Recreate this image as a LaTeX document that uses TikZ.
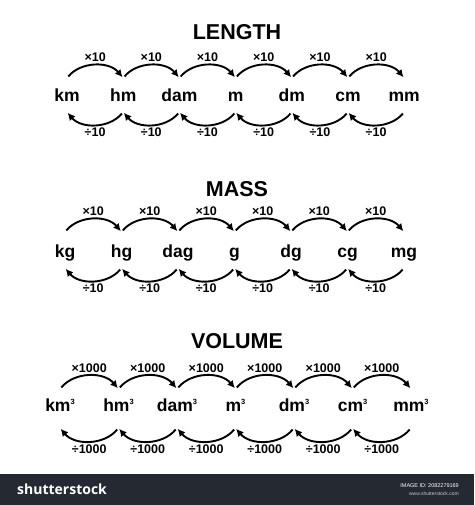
\documentclass[tikz,border=0pt]{standalone}
\usepackage{fontspec}
\setmainfont{Liberation Sans}
\newfontfamily\brandfont{Open Sans}
\usetikzlibrary{positioning}
\usetikzlibrary{arrows.meta}
\definecolor{barcol}{RGB}{37,41,50}
\newcommand{\cubed}{\raisebox{7pt}{\fontsize{7.5}{7.5}\selectfont 3}}

\begin{document}
\begin{tikzpicture}[x=1pt, y=-1pt,
  unit/.style={font=\bfseries\fontsize{17.5}{17.5}\selectfont, text height=13pt, text depth=4pt, inner sep=0pt, on grid},
  title/.style={font=\bfseries\fontsize{21.5}{21.5}\selectfont},
  fac/.style={font=\bfseries\fontsize{12.5}{12.5}\selectfont, inner sep=2.5pt},
  fwd/.style={-{Latex[length=7.5pt,width=7.5pt]}, line width=1.9pt, bend left=50, shorten <=2pt, shorten >=1pt, every node/.style={fac}},
  bwd/.style={fwd}]
\useasboundingbox (0,0) rectangle (474,505);

% length
\node[title] (tlen) at (237,32) {LENGTH};
\node[unit] (km) at (67,97.5) {km};
\node[unit] (hm) [right=56.2pt of km] {hm};
\node[unit] (dam) [right=56.2pt of hm] {dam};
\node[unit] (m) [right=56.2pt of dam] {m};
\node[unit] (dm) [right=56.2pt of m] {dm};
\node[unit] (cm) [right=56.2pt of dm] {cm};
\node[unit] (mm) [right=56.2pt of cm] {mm};
\draw[fwd] ([yshift=19.5pt]km.center) to node[above] {×10} ([yshift=19.5pt]hm.center);
\draw[fwd] ([yshift=19.5pt]hm.center) to node[above] {×10} ([yshift=19.5pt]dam.center);
\draw[fwd] ([yshift=19.5pt]dam.center) to node[above] {×10} ([yshift=19.5pt]m.center);
\draw[fwd] ([yshift=19.5pt]m.center) to node[above] {×10} ([yshift=19.5pt]dm.center);
\draw[fwd] ([yshift=19.5pt]dm.center) to node[above] {×10} ([yshift=19.5pt]cm.center);
\draw[fwd] ([yshift=19.5pt]cm.center) to node[above] {×10} ([yshift=19.5pt]mm.center);
\draw[bwd] ([yshift=-14.5pt]hm.center) to node[below] {÷10} ([yshift=-14.5pt]km.center);
\draw[bwd] ([yshift=-14.5pt]dam.center) to node[below] {÷10} ([yshift=-14.5pt]hm.center);
\draw[bwd] ([yshift=-14.5pt]m.center) to node[below] {÷10} ([yshift=-14.5pt]dam.center);
\draw[bwd] ([yshift=-14.5pt]dm.center) to node[below] {÷10} ([yshift=-14.5pt]m.center);
\draw[bwd] ([yshift=-14.5pt]cm.center) to node[below] {÷10} ([yshift=-14.5pt]dm.center);
\draw[bwd] ([yshift=-14.5pt]mm.center) to node[below] {÷10} ([yshift=-14.5pt]cm.center);

% mass
\node[title] (tmass) at (237,189) {MASS};
\node[unit] (kg) at (65,252.5) {kg};
\node[unit] (hg) [right=56.5pt of kg] {hg};
\node[unit] (dag) [right=56.5pt of hg] {dag};
\node[unit] (g) [right=56.5pt of dag] {g};
\node[unit] (dg) [right=56.5pt of g] {dg};
\node[unit] (cg) [right=56.5pt of dg] {cg};
\node[unit] (mg) [right=56.5pt of cg] {mg};
\draw[fwd] ([yshift=20.5pt]kg.center) to node[above] {×10} ([yshift=20.5pt]hg.center);
\draw[fwd] ([yshift=20.5pt]hg.center) to node[above] {×10} ([yshift=20.5pt]dag.center);
\draw[fwd] ([yshift=20.5pt]dag.center) to node[above] {×10} ([yshift=20.5pt]g.center);
\draw[fwd] ([yshift=20.5pt]g.center) to node[above] {×10} ([yshift=20.5pt]dg.center);
\draw[fwd] ([yshift=20.5pt]dg.center) to node[above] {×10} ([yshift=20.5pt]cg.center);
\draw[fwd] ([yshift=20.5pt]cg.center) to node[above] {×10} ([yshift=20.5pt]mg.center);
\draw[bwd] ([yshift=-15.5pt]hg.center) to node[below] {÷10} ([yshift=-15.5pt]kg.center);
\draw[bwd] ([yshift=-15.5pt]dag.center) to node[below] {÷10} ([yshift=-15.5pt]hg.center);
\draw[bwd] ([yshift=-15.5pt]g.center) to node[below] {÷10} ([yshift=-15.5pt]dag.center);
\draw[bwd] ([yshift=-15.5pt]dg.center) to node[below] {÷10} ([yshift=-15.5pt]g.center);
\draw[bwd] ([yshift=-15.5pt]cg.center) to node[below] {÷10} ([yshift=-15.5pt]dg.center);
\draw[bwd] ([yshift=-15.5pt]mg.center) to node[below] {÷10} ([yshift=-15.5pt]cg.center);

% volume
\node[title] (tvol) at (237,341) {VOLUME};
\node[unit] (kmc) at (60,406.5) {km\cubed};
\node[unit] (hmc) [right=58.5pt of kmc] {hm\cubed};
\node[unit] (damc) [right=58.5pt of hmc] {dam\cubed};
\node[unit] (mc) [right=58.5pt of damc] {m\cubed};
\node[unit] (dmc) [right=58.5pt of mc] {dm\cubed};
\node[unit] (cmc) [right=58.5pt of dmc] {cm\cubed};
\node[unit] (mmc) [right=58.5pt of cmc] {mm\cubed};
\draw[fwd] ([yshift=17.5pt]kmc.center) to node[above] {×1000} ([yshift=17.5pt]hmc.center);
\draw[fwd] ([yshift=17.5pt]hmc.center) to node[above] {×1000} ([yshift=17.5pt]damc.center);
\draw[fwd] ([yshift=17.5pt]damc.center) to node[above] {×1000} ([yshift=17.5pt]mc.center);
\draw[fwd] ([yshift=17.5pt]mc.center) to node[above] {×1000} ([yshift=17.5pt]dmc.center);
\draw[fwd] ([yshift=17.5pt]dmc.center) to node[above] {×1000} ([yshift=17.5pt]cmc.center);
\draw[fwd] ([yshift=17.5pt]cmc.center) to node[above] {×1000} ([yshift=17.5pt]mmc.center);
\draw[bwd] ([yshift=-21.5pt]hmc.center) to node[below] {÷1000} ([yshift=-21.5pt]kmc.center);
\draw[bwd] ([yshift=-21.5pt]damc.center) to node[below] {÷1000} ([yshift=-21.5pt]hmc.center);
\draw[bwd] ([yshift=-21.5pt]mc.center) to node[below] {÷1000} ([yshift=-21.5pt]damc.center);
\draw[bwd] ([yshift=-21.5pt]dmc.center) to node[below] {÷1000} ([yshift=-21.5pt]mc.center);
\draw[bwd] ([yshift=-21.5pt]cmc.center) to node[below] {÷1000} ([yshift=-21.5pt]dmc.center);
\draw[bwd] ([yshift=-21.5pt]mmc.center) to node[below] {÷1000} ([yshift=-21.5pt]cmc.center);

% bottom bar
\fill[barcol] (0,474) rectangle (474,505);
\node[font=\brandfont\bfseries\fontsize{14}{14}\selectfont, text=white, anchor=base west, inner sep=0pt] (brand) at (17,494) {shutterstock};
\node[font=\fontsize{5.5}{5.5}\selectfont, text=white, anchor=base east, inner sep=0pt] (imgid) at (459,487) {IMAGE ID: 2082279169};
\node[font=\fontsize{5}{5}\selectfont, text=white!75!barcol, anchor=base east, inner sep=0pt] (site) at (459,495) {www.shutterstock.com};
\end{tikzpicture}
\end{document}
